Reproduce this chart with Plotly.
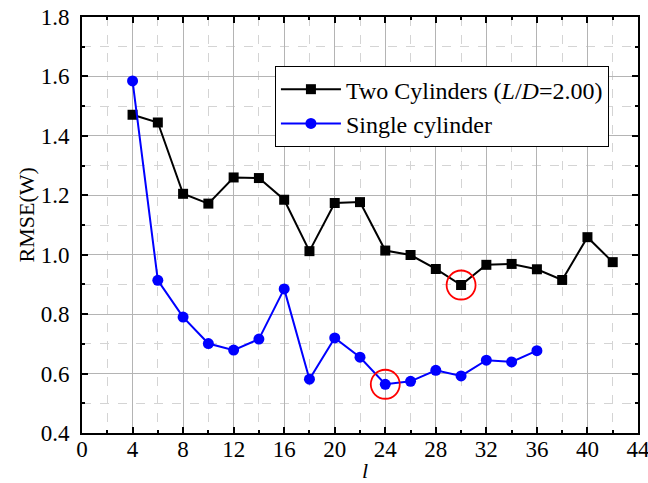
import plotly.graph_objects as go

# RMSE versus l for the two configurations
l_two = [4, 6, 8, 10, 12, 14, 16, 18, 20, 22, 24, 26, 28, 30, 32, 34, 36, 38, 40, 42]
rmse_two = [1.471, 1.445, 1.205, 1.172, 1.260, 1.258, 1.185, 1.012, 1.174, 1.177,
            1.014, 0.999, 0.952, 0.898, 0.966, 0.969, 0.951, 0.915, 1.059, 0.975]

l_single = [4, 6, 8, 10, 12, 14, 16, 18, 20, 22, 24, 26, 28, 30, 32, 34, 36]
rmse_single = [1.585, 0.914, 0.790, 0.701, 0.679, 0.716, 0.885, 0.581, 0.720, 0.655,
               0.564, 0.574, 0.611, 0.592, 0.645, 0.639, 0.677]

x_ticks = list(range(0, 45, 4))
y_ticks = [0.4, 0.6, 0.8, 1.0, 1.2, 1.4, 1.6, 1.8]

FONT = "Liberation Serif, Times New Roman, serif"

fig = go.Figure()

fig.add_trace(go.Scatter(
    x=l_two, y=rmse_two, mode="lines+markers",
    name="Two Cylinders (<i>L</i>/<i>D</i>=2.00)",
    line=dict(color="black", width=2),
    marker=dict(symbol="square", size=10, color="black"),
))
fig.add_trace(go.Scatter(
    x=l_single, y=rmse_single, mode="lines+markers",
    name="Single cylinder",
    line=dict(color="#0000ff", width=2),
    marker=dict(symbol="circle", size=11, color="#0000ff"),
))

# red rings around the minimum of each curve
i_two = rmse_two.index(min(rmse_two))
i_single = rmse_single.index(min(rmse_single))
fig.add_trace(go.Scatter(
    x=[l_two[i_two], l_single[i_single]],
    y=[rmse_two[i_two], rmse_single[i_single]],
    mode="markers", showlegend=False, hoverinfo="skip",
    marker=dict(symbol="circle-open", size=29, color="red", line=dict(width=1.8, color="red")),
))

axis_common = dict(
    showline=True, linecolor="black", linewidth=2, mirror="ticks",
    ticks="inside", ticklen=6, tickwidth=1.5, tickcolor="black",
    showgrid=True, gridcolor="#b4b4b4", gridwidth=1,
    zeroline=False, automargin=False, ticklabeloverflow="allow",
    tickfont=dict(family=FONT, size=23, color="black"),
)

fig.update_xaxes(
    range=[0, 44], tickvals=x_ticks,
    minor=dict(dtick=2, tick0=0, ticks="inside", ticklen=3, tickcolor="black",
               showgrid=True, gridcolor="#d4d4d4", griddash="dash", gridwidth=1),
    ticklabelstandoff=-6,
    **axis_common,
)
fig.update_yaxes(
    range=[0.4, 1.8], tickvals=y_ticks, tickformat=".1f",
    minor=dict(dtick=0.1, tick0=0.4, ticks="inside", ticklen=3, tickcolor="black",
               showgrid=True, gridcolor="#d4d4d4", griddash="dash", gridwidth=1),
    ticklabelstandoff=6,
    **axis_common,
)

# axis titles
fig.add_annotation(text="RMSE(W)", textangle=-90, showarrow=False,
                   xref="paper", yref="paper", x=-0.1, y=0.524,
                   xanchor="center", yanchor="middle",
                   font=dict(family=FONT, size=22, color="black"))
fig.add_annotation(text="<i>l</i>", showarrow=False,
                   xref="paper", yref="paper", x=0.509, y=-0.089,
                   xanchor="center", yanchor="middle",
                   font=dict(family=FONT, size=22, color="black"))

fig.update_layout(
    width=648, height=483,
    margin=dict(l=82, r=10, t=17, b=50),
    paper_bgcolor="white", plot_bgcolor="white",
    font=dict(family=FONT, color="black"),
    legend=dict(
        x=0.347, y=0.882, xanchor="left", yanchor="top",
        bgcolor="white", bordercolor="black", borderwidth=1,
        font=dict(family=FONT, size=24, color="black"),
        itemwidth=60, tracegroupgap=0,
    ),
)

fig.write_html("out.html")
